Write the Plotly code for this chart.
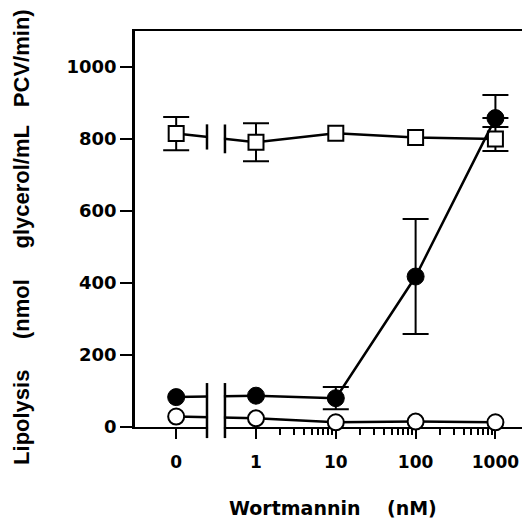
import math
import plotly.graph_objects as go

# ---- data ----
concentrations = [0, 1, 10, 100, 1000]          # Wortmannin (nM)
tick_labels = ["0", "1", "10", "100", "1000"]

squares_mean = [815, 791, 816, 804, 800]
squares_err = [46, 53, 0, 0, 33]

filled_mean = [83, 87, 80, 418, 858]
filled_err_plus = [0, 0, 31, 160, 64]
filled_err_minus = [0, 0, 31, 160, 0]

open_mean = [29, 24, 13, 15, 13]

y_ticks = [0, 200, 400, 600, 800, 1000]

# ---- axis transform: log10 for >0, zero placed one decade left of 1 ----
ZERO_POS = -1.0
BREAK_L, BREAK_R = -0.614, -0.389


def pos(c):
    return ZERO_POS if c == 0 else math.log10(c)


xp = [pos(c) for c in concentrations]
major_vals = xp
minor_vals = [math.log10(k * 10 ** d) for d in range(0, 3) for k in range(2, 10)]

fig = go.Figure()


def err_trace(y, plus, minus):
    idx = [i for i in range(len(y)) if plus[i] > 0 or minus[i] > 0]
    return go.Scatter(
        x=[xp[i] for i in idx], y=[y[i] for i in idx], mode="markers",
        marker=dict(size=1, color="rgba(0,0,0,0)"),
        error_y=dict(type="data", symmetric=False,
                     array=[plus[i] for i in idx], arrayminus=[minus[i] for i in idx],
                     color="black", thickness=2, width=13),
        showlegend=False, hoverinfo="skip", cliponaxis=False)


# open circles
fig.add_trace(go.Scatter(
    x=xp, y=open_mean, mode="lines+markers",
    line=dict(color="black", width=2.5),
    marker=dict(symbol="circle", size=16, color="white", line=dict(color="black", width=2)),
    showlegend=False, cliponaxis=False))

# open squares
fig.add_trace(err_trace(squares_mean, squares_err, squares_err))
fig.add_trace(go.Scatter(
    x=xp, y=squares_mean, mode="lines+markers",
    line=dict(color="black", width=2.5),
    marker=dict(symbol="square", size=15, color="white", line=dict(color="black", width=2)),
    showlegend=False, cliponaxis=False))

# filled circles
fig.add_trace(err_trace(filled_mean, filled_err_plus, filled_err_minus))
fig.add_trace(go.Scatter(
    x=xp, y=filled_mean, mode="lines+markers",
    line=dict(color="black", width=2.5),
    marker=dict(symbol="circle", size=17, color="black", line=dict(color="black", width=1)),
    showlegend=False, cliponaxis=False))


# ---- axis break ----
def interp(y0, y1, p):
    return y0 + (y1 - y0) * (p - xp[0]) / (xp[1] - xp[0])


shapes = [
    dict(type="rect", xref="x", yref="paper", x0=BREAK_L + 0.013, x1=BREAK_R - 0.013,
         y0=-0.03, y1=0.92, fillcolor="white", line=dict(width=0), layer="above"),
]
for bx in (BREAK_L, BREAK_R):
    shapes.append(dict(type="line", xref="x", yref="paper", x0=bx, x1=bx,
                       y0=-0.028, y1=0.111, line=dict(color="black", width=2.5), layer="above"))
for bx, half in ((BREAK_L, 35), (BREAK_R, 40)):
    yc = interp(squares_mean[0], squares_mean[1], bx)
    shapes.append(dict(type="line", xref="x", yref="y", x0=bx, x1=bx,
                       y0=yc - half, y1=yc + half, line=dict(color="black", width=2.5), layer="above"))

fig.update_layout(
    width=522, height=518,
    margin=dict(l=135, r=0, t=31, b=91),
    paper_bgcolor="white", plot_bgcolor="white",
    shapes=shapes,
    xaxis=dict(range=[-1.516, 3.333], showgrid=False, zeroline=False,
               showline=True, linecolor="black", linewidth=2, mirror=True,
               tickmode="array", tickvals=major_vals, ticktext=tick_labels,
               ticks="outside", ticklen=10, tickwidth=2, tickcolor="black",
               ticklabelstandoff=9,
               tickfont=dict(family="DejaVu Sans", size=17, color="black", weight="bold"),
               minor=dict(tickmode="array", tickvals=minor_vals, ticks="outside",
                          ticklen=6, tickwidth=1.5, tickcolor="black", showgrid=False),
               layer="below traces"),
    yaxis=dict(range=[0, 1100], showgrid=False, zeroline=False,
               showline=True, linecolor="black", linewidth=2.5,
               tickmode="array", tickvals=y_ticks,
               ticks="outside", ticklen=12, tickwidth=2, tickcolor="black",
               tickfont=dict(family="DejaVu Sans", size=18, color="black", weight="bold"),
               layer="below traces"),
    annotations=[
        dict(text="Lipolysis     (nmol     glycerol/mL   PCV/min)", textangle=-90,
             xref="paper", yref="paper", x=-0.292, y=0.48, xanchor="center", yanchor="middle",
             showarrow=False,
             font=dict(family="Liberation Sans", size=22, color="black", weight="bold")),
        dict(text="Wortmannin    (nM)",
             xref="paper", yref="paper", x=0.512, y=-0.2045, xanchor="center", yanchor="middle",
             showarrow=False,
             font=dict(family="DejaVu Sans", size=19, color="black", weight="bold")),
    ],
)

fig.write_html("out.html", config={"displayModeBar": False},
               post_script="document.body.style.margin='0';document.body.style.overflow='hidden';")
